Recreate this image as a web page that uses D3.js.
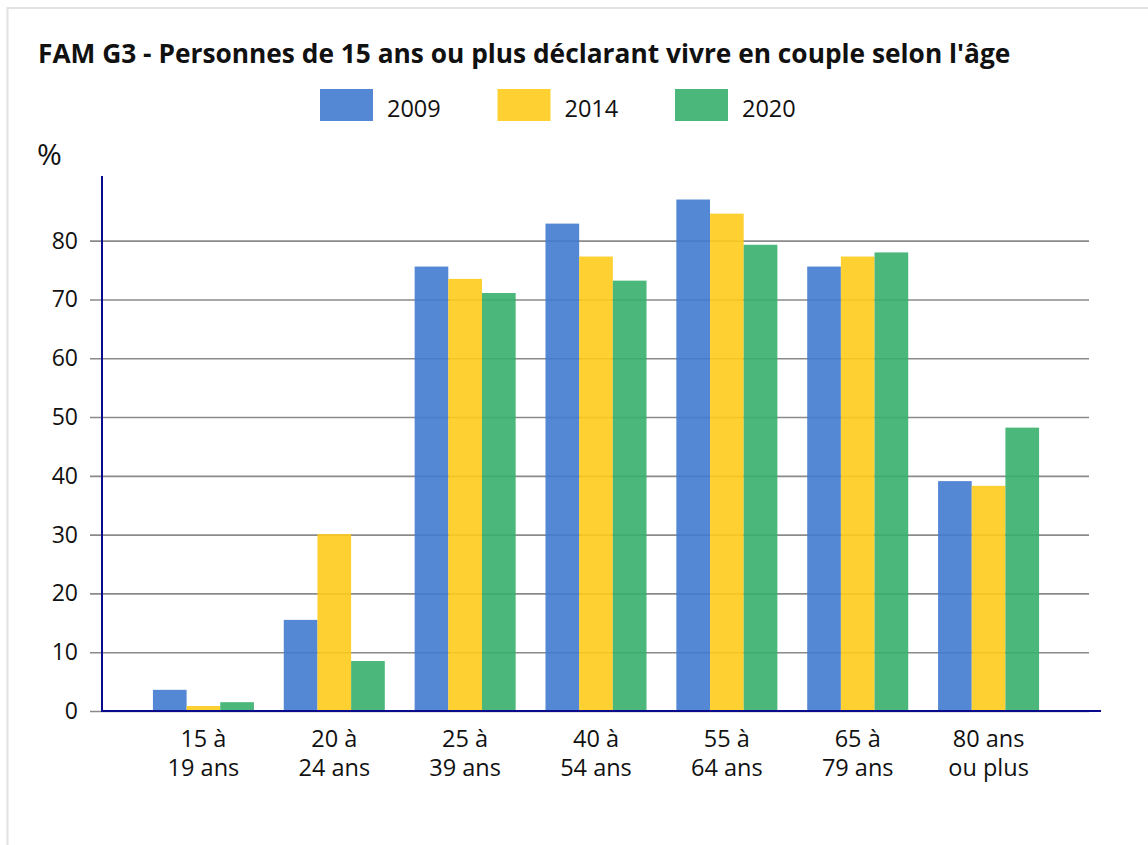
<!DOCTYPE html>
<html>
<head>
<meta charset="utf-8">
<script src="https://cdn.jsdelivr.net/npm/d3@7"></script>
<style>
  body { margin: 0; background: #fff; font-family: "Open Sans", sans-serif; }
  text { font-family: "Open Sans", sans-serif; fill: #111; }
</style>
</head>
<body>
<script>
  //==DATA==//
  const categories = ["15 à\n19 ans", "20 à\n24 ans", "25 à\n39 ans", "40 à\n54 ans", "55 à\n64 ans", "65 à\n79 ans", "80 ans\nou plus"];
  const years = ["2009", "2014", "2020"];
  const values2009 = [3.6, 15.5, 75.6, 82.9, 87.0, 75.6, 39.1];
  const values2014 = [0.85, 30.1, 73.5, 77.3, 84.6, 77.3, 38.3];
  const values2020 = [1.5, 8.5, 71.1, 73.2, 79.3, 78.0, 48.2];
  const yTicks = [0, 10, 20, 30, 40, 50, 60, 70, 80];
  const colours = ["#427bcf", "#fecb1c", "#37af6b"];

  const series = [values2009, values2014, values2020];

  //=SVG AREA=//
  const width = 1148;
  const height = 845;

  const svg = d3.select("body")
  .append("svg")
  .attr("width", width)
  .attr("height", height);

  //frame of the card
  svg.append("rect")
  .attr("x", 7.5)
  .attr("y", 8)
  .attr("width", 1200)
  .attr("height", 900)
  .attr("fill", "none")
  .attr("stroke", "#e2e2e2")
  .attr("stroke-width", 2);

  //==TITLE==
  svg.append("text")
  .attr("x", 38)
  .attr("y", 63)
  .style("font-size", "26.3px")
  .style("font-weight", "bold")
  .text("FAM G3 - Personnes de 15 ans ou plus déclarant vivre en couple selon l'âge");

  //==LEGEND==
  const legend = svg.append("g")
  .selectAll("g")
  .data(years)
  .enter()
  .append("g")
  .attr("transform", (d, i) => "translate(" + (320 + i * 177.5) + ",89)");

  legend.append("rect")
  .attr("width", 53)
  .attr("height", 32)
  .attr("fill", (d, i) => colours[i])
  .attr("fill-opacity", 0.9);

  legend.append("text")
  .attr("x", 67)
  .attr("y", 27.5)
  .style("font-size", "23.5px")
  .text(d => d);

  svg.append("text")
  .attr("x", 37)
  .attr("y", 165)
  .style("font-size", "30px")
  .text("%");

  //==SCALES==
  const x0 = d3.scaleBand()
  .domain(categories)
  .range([138, 1054])
  .paddingInner(0.228)
  .paddingOuter(0.114);

  const x1 = d3.scaleBand()
  .domain(years)
  .range([0, x0.bandwidth()]);

  const y = d3.scaleLinear()
  .domain([0, 91])
  .range([711, 176]);

  //==GRID + Y AXIS LABELS==
  const yAxis = d3.axisLeft(y)
  .tickValues(yTicks)
  .tickSize(-999)
  .tickPadding(13)
  .tickFormat(d => d);

  const gy = svg.append("g")
  .attr("transform", "translate(90,0)")
  .call(yAxis);

  gy.select(".domain").remove();
  gy.selectAll(".tick line")
  .attr("stroke", "#8a8a8a")
  .attr("stroke-width", 1.6);
  gy.selectAll(".tick text")
  .attr("x", -12)
  .style("font-size", "23px")
  .style("font-family", "Open Sans, sans-serif")
  .attr("fill", "#111");

  //==BARS==
  svg.append("g")
  .selectAll("g")
  .data(categories)
  .enter()
  .append("g")
  .attr("transform", d => "translate(" + x0(d) + ",0)")
  .selectAll("rect")
  .data((d, i) => years.map((yr, j) => ({ year: yr, value: series[j][i], idx: j })))
  .enter()
  .append("rect")
  .attr("x", d => x1(d.year))
  .attr("y", d => y(d.value))
  .attr("width", x1.bandwidth())
  .attr("height", d => y(0) - y(d.value))
  .attr("fill", d => colours[d.idx])
  .attr("fill-opacity", 0.9);

  //==AXIS LINES==
  svg.append("line")
  .attr("x1", 102).attr("x2", 102)
  .attr("y1", y.range()[1]).attr("y2", y(0) + 1)
  .attr("stroke", "#0a0a8c")
  .attr("stroke-width", 2);

  svg.append("line")
  .attr("x1", 102).attr("x2", 1101)
  .attr("y1", y(0)).attr("y2", y(0))
  .attr("stroke", "#0a0a8c")
  .attr("stroke-width", 2);

  //==CATEGORY LABELS==
  const labels = svg.append("g")
  .selectAll("text")
  .data(categories)
  .enter()
  .append("text")
  .attr("text-anchor", "middle")
  .attr("x", d => x0(d) + x0.bandwidth() / 2)
  .attr("y", 747)
  .style("font-size", "23.5px");

  labels.selectAll("tspan")
  .data(d => d.split("\n"))
  .enter()
  .append("tspan")
  .attr("x", function() { return this.parentNode.getAttribute("x"); })
  .attr("dy", (d, i) => i === 0 ? 0 : 28.5)
  .text(d => d);
</script>
</body>
</html>
